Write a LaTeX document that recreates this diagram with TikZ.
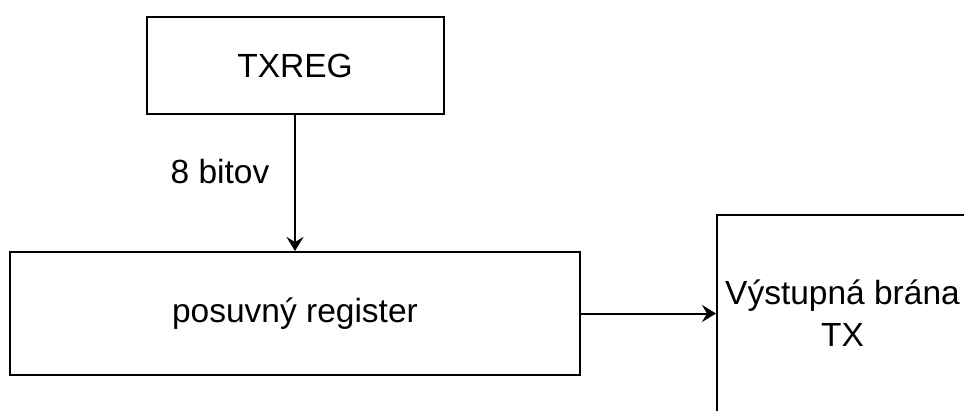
\documentclass[tikz,border=0pt]{standalone}
\usepackage{fontspec}
\setmainfont{Liberation Sans}
\usetikzlibrary{arrows.meta}

\begin{document}
\begin{tikzpicture}
  [x=1pt,y=-1pt,line width=2pt,
   every node/.style={font=\fontsize{33.5}{42}\selectfont,inner sep=0pt},
   blok/.style={draw,rectangle,align=center}]
  \clip (0,0) rectangle (964,410);
  \node[blok,minimum width=297pt,minimum height=97pt] (txreg) at (295,65.5) {TXREG};
  \node[blok,minimum width=570pt,minimum height=123pt] (reg) at (295,313.5) {posuvný register};
  \node[blok,minimum width=251pt,minimum height=197pt] (out) at (842.5,313.5) {Výstupná brána\\TX};
  \node (bity) at (220,172) {8 bitov};
  \foreach \from/\to in {txreg/reg,reg/out}
    \draw[-{Stealth[length=14pt,width=17pt,inset=5pt]}] (\from) -- (\to);

\end{tikzpicture}
\end{document}
